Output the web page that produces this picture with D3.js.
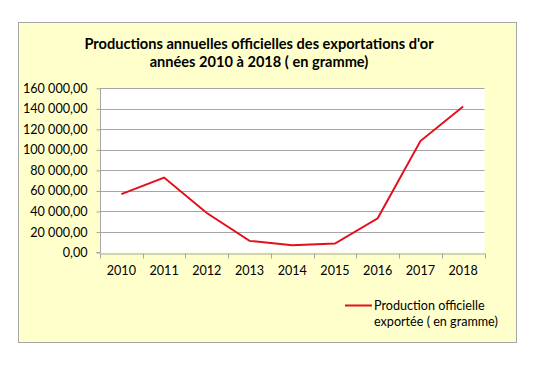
<!DOCTYPE html>
<html><head><meta charset="utf-8">
<script src="https://cdn.jsdelivr.net/npm/d3@7"></script>
<style>body{margin:0;background:#fff;} svg{display:block;}</style>
</head><body>
<script>
const years = ["2010","2011","2012","2013","2014","2015","2016","2017","2018"];
const values = [56900, 73000, 38500, 11300, 7100, 8700, 33300, 108600, 142300];
const yTicks = [0,20000,40000,60000,80000,100000,120000,140000,160000];
const titleLines = ["Productions annuelles officielles des exportations d'or", "années 2010 à 2018 ( en gramme)"];
const legendLines = ["Production officielle", "exportée ( en gramme)"];

const W=541,H=375;
const svg=d3.select("body").append("svg").attr("width",W).attr("height",H);
const font="Lato, 'Open Sans', sans-serif";
svg.append("rect").attr("x",18.5).attr("y",22.5).attr("width",498).attr("height",320)
  .attr("fill","#ffffcc").attr("stroke","#a6a6a6").attr("stroke-width",1);

const m={l:100,r:484.5,t:88.3,b:252.5};
svg.append("rect").attr("x",m.l).attr("y",m.t).attr("width",m.r-m.l).attr("height",m.b-m.t).attr("fill","#fff");

const x=d3.scaleBand().domain(years).range([m.l,m.r]);
const y=d3.scaleLinear().domain([0,160000]).range([m.b,m.t]);
const fmt=v=>{const s=d3.format(",.2f")(v); return s.replace(/,/g," ").replace(/\.(\d\d)$/,",$1");};

// gridlines
svg.append("g").selectAll("line").data(yTicks.filter(d=>d>0)).join("line")
  .attr("x1",m.l).attr("x2",m.r).attr("y1",d=>Math.round(y(d))+0.5).attr("y2",d=>Math.round(y(d))+0.5)
  .attr("stroke","#a6a6a6").attr("stroke-width",1);

// y axis
const ya=svg.append("g").attr("transform",`translate(${m.l+0.5},0)`)
  .call(d3.axisLeft(y).tickValues(yTicks).tickFormat(fmt).tickSize(4).tickPadding(9));
ya.select(".domain").attr("stroke","#a6a6a6").attr("d",`M-4,${y(0)}H0V${m.t}`);
ya.selectAll(".tick line").attr("stroke","#a6a6a6");
ya.selectAll(".tick text").attr("font-family",font).attr("font-size",12.6).attr("fill","#000");

// x axis
const xa=svg.append("g").attr("transform",`translate(0,${Math.round(m.b)+0.5})`)
  .call(d3.axisBottom(x).tickSize(0).tickPadding(13));
xa.select(".domain").attr("stroke","#a6a6a6");
xa.selectAll(".tick text").attr("font-family",font).attr("font-size",12.6).attr("fill","#000");
xa.append("g").selectAll("line").data(years.map(d=>x(d)).concat([m.r])).join("line")
  .attr("x1",d=>Math.round(d)+0.5).attr("x2",d=>Math.round(d)+0.5).attr("y1",0).attr("y2",5)
  .attr("stroke","#a6a6a6");

// line
const line=d3.line().x((d,i)=>x(years[i])+x.bandwidth()/2).y(d=>y(d));
svg.append("path").datum(values).attr("d",line).attr("fill","none")
  .attr("stroke","#e3101b").attr("stroke-width",2).attr("stroke-linejoin","miter");

// title
svg.append("text").attr("x",259).attr("y",49).attr("text-anchor","middle")
  .attr("font-family",font).attr("font-weight","bold").attr("font-size",14.6).text(titleLines[0]);
svg.append("text").attr("x",259).attr("y",67).attr("text-anchor","middle")
  .attr("font-family",font).attr("font-weight","bold").attr("font-size",14.6).text(titleLines[1]);

// legend
svg.append("line").attr("x1",345).attr("x2",372).attr("y1",305.5).attr("y2",305.5)
  .attr("stroke","#e3101b").attr("stroke-width",2);
legendLines.forEach((t,i)=>svg.append("text").attr("x",374).attr("y",310+i*15.5)
  .attr("font-family",font).attr("font-size",12.6).attr("fill","#000").text(t));
</script>
</body></html>
